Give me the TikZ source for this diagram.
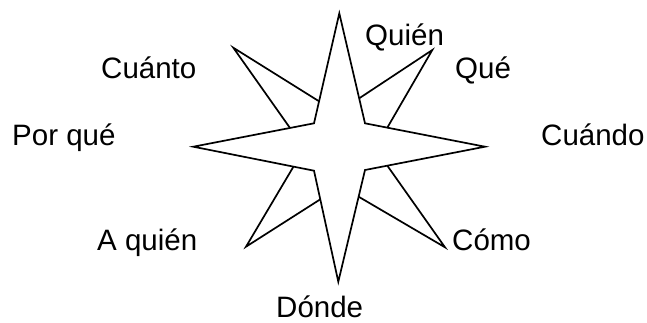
\documentclass[tikz,border=0pt]{standalone}
\usepackage{fontspec}
\setmainfont{Liberation Sans}
\usetikzlibrary{calc}
\begin{document}
\begin{tikzpicture}[x=1pt,y=-1pt,
  starline/.style={line width=1.7pt,line join=miter},
  lbl/.style={inner sep=0pt,anchor=base west,font=\fontsize{29.5}{31}\selectfont}]
\useasboundingbox (0,0) rectangle (647,322);
% main star vertices
\coordinate (T) at (339.3,13.3);
\coordinate (I1) at (365,123.3);
\coordinate (R) at (485,146.7);
\coordinate (I2) at (365,170);
\coordinate (B) at (338.3,281.7);
\coordinate (I3) at (314,170.7);
\coordinate (L) at (193.3,146.7);
\coordinate (I4) at (314,123.3);
% diagonal tips
\coordinate (TR) at (432.3,50);
\coordinate (TL) at (233.3,47.7);
\coordinate (BL) at (246,246.7);
\coordinate (BR) at (445,247.3);
% attachment points
\coordinate (a1) at ($(T)!0.773!(I1)$);
\coordinate (a2) at ($(I1)!0.186!(R)$);
\coordinate (b1) at ($(T)!0.80!(I4)$);
\coordinate (b2) at ($(I4)!0.199!(L)$);
\coordinate (c1) at ($(L)!0.83!(I3)$);
\coordinate (c2) at ($(I3)!0.258!(B)$);
\coordinate (d1) at ($(R)!0.814!(I2)$);
\coordinate (d2) at ($(I2)!0.239!(B)$);
% spikes
\draw[starline] (a1) -- (TR) -- (a2);
\draw[starline] (b1) -- (TL) -- (b2);
\draw[starline] (c1) -- (BL) -- (c2);
\draw[starline] (d1) -- (BR) -- (d2);
% main star
\draw[starline,fill=white] (T) -- (I1) -- (R) -- (I2) -- (B) -- (I3) -- (L) -- (I4) -- cycle;
% labels
\node[lbl] (quien) at (365,45) {Quién};
\node[lbl] (que) at (455,78) {Qué};
\node[lbl] (cuanto) at (101,78) {Cuánto};
\node[lbl] (porque) at (12,145) {Por qué};
\node[lbl] (cuando) at (541,145) {Cuándo};
\node[lbl] (aquien) at (97,250) {A quién};
\node[lbl] (como) at (452,250) {Cómo};
\node[lbl] (donde) at (276,317) {Dónde};
\end{tikzpicture}
\end{document}
